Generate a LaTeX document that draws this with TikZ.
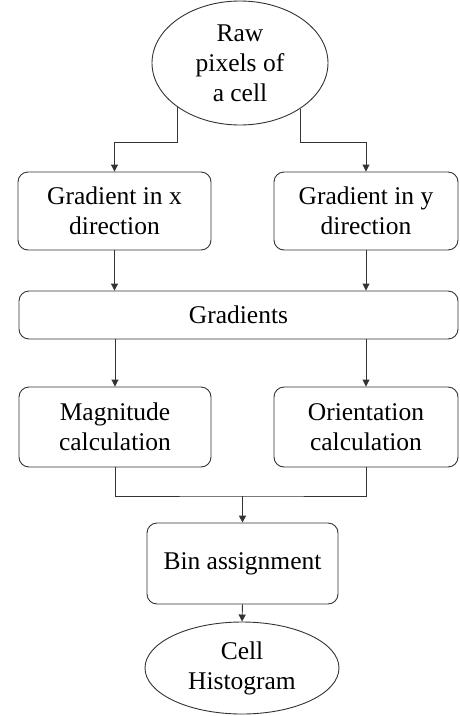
\documentclass[tikz,border=0pt]{standalone}
\usepackage{fontspec}
\setmainfont{Liberation Serif}
\usetikzlibrary{shapes.geometric,arrows.meta}
\begin{document}
\begin{tikzpicture}[x=1pt,y=-1pt,
  every node/.style={font=\fontsize{25.5}{30}\selectfont, text=black, align=center, inner sep=0pt},
  stepbox/.style={draw=black!80, line width=0.9pt, rounded corners=10pt, rectangle},
  oval/.style={draw=black!80, line width=0.9pt, ellipse},
  conn/.style={draw=black!80, line width=0.9pt},
  arr/.style={conn, -{Triangle[length=7pt,width=7pt]}}]
\useasboundingbox (0,0) rectangle (459,716);
\node[oval, minimum width=176pt, minimum height=124pt] (raw) at (240,63)
  {\fontsize{25.5}{31}\selectfont Raw\\pixels of\\a cell};
\node[stepbox, minimum width=193pt, minimum height=78pt] (gx) at (114.5,211) {Gradient in x\\direction};
\node[stepbox, minimum width=184pt, minimum height=78pt] (gy) at (366,211) {Gradient in y\\direction};
\node[stepbox, minimum width=439pt, minimum height=48pt] (grad) at (238.5,315) {Gradients};
\node[stepbox, minimum width=192pt, minimum height=80pt] (mag) at (115,427) {Magnitude\\calculation};
\node[stepbox, minimum width=184pt, minimum height=80pt] (ori) at (366,427) {Orientation\\calculation};
\node[stepbox, minimum width=191pt, minimum height=81pt] (bin) at (242.5,563.5) {Bin assignment};
\node[oval, minimum width=194pt, minimum height=92pt] (hist) at (242,668) {Cell\\Histogram};
\coordinate (kl) at (gx.north |- 0,142);
\coordinate (kr) at (gy.north |- 0,142);
\coordinate (join) at (bin.north |- 0,496);
\draw[conn] (raw.-145) |- (kl);
\draw[arr] (kl) -- (gx.north);
\draw[conn] (raw.-37) |- (kr);
\draw[arr] (kr) -- (gy.north);
\draw[arr] (gx.south) -- (grad.north -| gx.south);
\draw[arr] (gy.south) -- (grad.north -| gy.south);
\draw[arr] (grad.south -| mag.north) -- (mag.north);
\draw[arr] (grad.south -| ori.north) -- (ori.north);
\draw[conn] (mag.south) |- (join) -| (ori.south);
\draw[arr, line width=1.6pt] (join) -- (bin.north);
\draw[arr] (bin.south) -- (hist.north);
\end{tikzpicture}
\end{document}
